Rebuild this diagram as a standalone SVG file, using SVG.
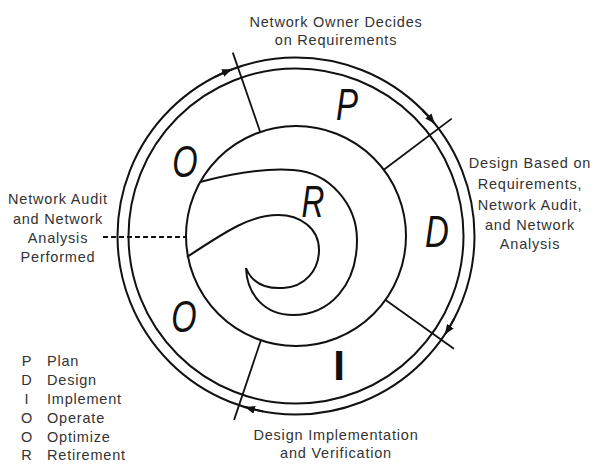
<svg xmlns="http://www.w3.org/2000/svg" width="593" height="465" viewBox="0 0 593 465">
<style>
.ln{fill:none;stroke:#111;stroke-width:2}
.rad{fill:none;stroke:#111;stroke-width:1.8}
.lbl{font-family:"Liberation Sans",Arial,sans-serif;font-size:14.5px;letter-spacing:0.8px;fill:#333;text-anchor:middle}
.leg{font-family:"Liberation Sans",Arial,sans-serif;font-size:14.5px;letter-spacing:0.8px;fill:#333}
.big{font-family:"Liberation Sans",Arial,sans-serif;font-size:44px;font-style:italic;fill:#111;text-anchor:middle}
</style>
<defs>
<marker id="ah" markerUnits="userSpaceOnUse" markerWidth="11" markerHeight="8" refX="10" refY="4" orient="auto">
<path d="M0,0 L10,4 L0,8 z" fill="#111"/>
</marker>
</defs>
<rect width="593" height="465" fill="#fff"/>
<g id="ring">
<circle class="ln" cx="296" cy="236" r="178.5"/>
<circle class="ln" cx="296" cy="236" r="167.5"/>
<circle class="ln" cx="296" cy="236" r="110"/>
</g>
<g id="connectors">
<line class="rad" x1="260.2" y1="132" x2="232.8" y2="52.6"/>
<line class="rad" x1="383.8" y1="169.8" x2="451.7" y2="118.6"/>
<line class="rad" x1="385.6" y1="299.9" x2="453.9" y2="348.7"/>
<line class="rad" x1="260.9" y1="340.3" x2="234.1" y2="419.9"/>
<path class="ln" d="M214.96,76.96 A178.5,178.5 0 0 1 232.03,69.35" marker-end="url(#ah)"/>
<path class="ln" d="M422.22,109.78 A178.5,178.5 0 0 1 434.72,123.67" marker-end="url(#ah)"/>
<path class="ln" d="M454.33,318.41 A178.5,178.5 0 0 1 444.85,334.51" marker-end="url(#ah)"/>
<path class="ln" d="M263.16,411.45 A178.5,178.5 0 0 1 245.0,407.06" marker-end="url(#ah)"/>
<line x1="103" y1="237" x2="186" y2="237" stroke="#111" stroke-width="2" stroke-dasharray="5,3"/>
</g>
<g id="retirement">
<path class="ln" d="M200,182 C230,174 265,168 293,170 C330,172 357,205 357,240 C357,285 330,315 293,315 C265,315 247,295 246,268 C252,283 266,289 283,288 C305,287 319,270 319,250 C319,228 300,215 278,215 C250,215 225,232 187,257"/>
<text class="big" transform="translate(313,217) scale(0.72,1)">R</text>
</g>
<g id="plan"><text class="big" transform="translate(347,120) scale(0.75,1)">P</text></g>
<g id="design"><text class="big" transform="translate(437,247) scale(0.75,1)">D</text></g>
<g id="implement"><text transform="translate(339,380)" font-family="Liberation Sans,Arial,sans-serif" font-size="42" font-weight="bold" fill="#111" text-anchor="middle">I</text></g>
<g id="operate"><text class="big" transform="translate(185,177) scale(0.74,1)">O</text></g>
<g id="optimize"><text class="big" transform="translate(184,332) scale(0.74,1)">O</text></g>
<g id="labels">
<text class="lbl" x="336" y="27">Network Owner Decides</text>
<text class="lbl" x="336" y="45">on Requirements</text>
<text class="lbl" x="530" y="168">Design Based on</text>
<text class="lbl" x="530" y="189">Requirements,</text>
<text class="lbl" x="530" y="210">Network Audit,</text>
<text class="lbl" x="530" y="230">and Network</text>
<text class="lbl" x="530" y="249">Analysis</text>
<text class="lbl" x="58" y="204">Network Audit</text>
<text class="lbl" x="58" y="224">and Network</text>
<text class="lbl" x="58" y="243">Analysis</text>
<text class="lbl" x="58" y="262">Performed</text>
<text class="lbl" x="336" y="440">Design Implementation</text>
<text class="lbl" x="336" y="458">and Verification</text>
</g>
<g id="legend">
<text class="lbl" x="27" y="366">P</text><text class="leg" x="47" y="366">Plan</text>
<text class="lbl" x="27" y="385">D</text><text class="leg" x="47" y="385">Design</text>
<text class="lbl" x="27" y="404">I</text><text class="leg" x="47" y="404">Implement</text>
<text class="lbl" x="27" y="423">O</text><text class="leg" x="47" y="423">Operate</text>
<text class="lbl" x="27" y="442">O</text><text class="leg" x="47" y="442">Optimize</text>
<text class="lbl" x="27" y="460">R</text><text class="leg" x="47" y="460">Retirement</text>
</g>
</svg>
